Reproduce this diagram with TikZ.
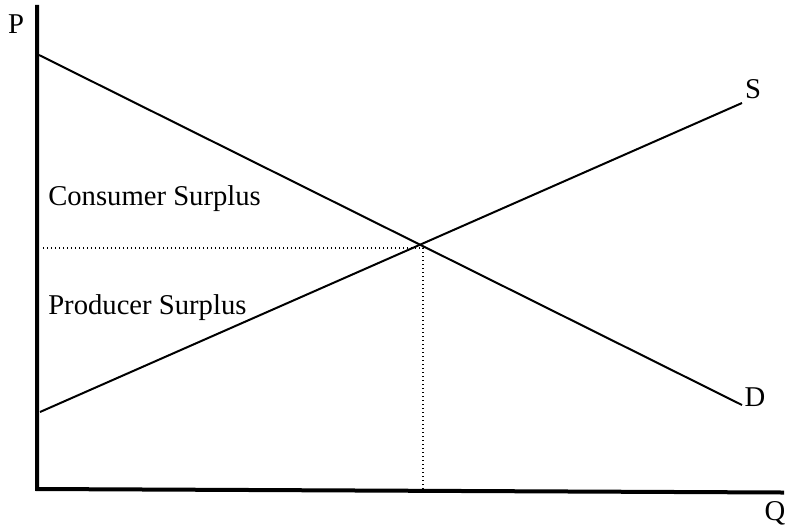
\documentclass[tikz,border=0pt]{standalone}
\usepackage{fontspec}
\setmainfont{Liberation Serif}
\begin{document}
\begin{tikzpicture}[x=0.75pt,y=-0.75pt,
  axis/.style={line width=3pt,line cap=rect},
  curve/.style={line width=1.5pt},
  guide/.style={line width=0.9pt,dash pattern=on 0.9pt off 2.1pt},
  lab/.style={font=\fontsize{21.5}{24}\selectfont,inner sep=0pt}]
\useasboundingbox (0,0) rectangle (787,527);
\coordinate (ytop) at (37,7);
\coordinate (origin) at (37,489);
\coordinate (xend) at (782,492.5);
\coordinate (d0) at (39,55);
\coordinate (d1) at (742,405);
\coordinate (s0) at (40,412);
\coordinate (s1) at (742,103);
\coordinate (h0) at (43,248);
\coordinate (eq) at (423,248);
\coordinate (qe) at (423,490);
\draw[axis] (ytop) -- (origin) -- (xend);
\draw[curve] (d0) -- (d1);
\draw[curve] (s0) -- (s1);
\draw[guide] (h0) -- (eq) -- (qe);
\node[lab] (P) at (16,24) {P};
\node[lab] (Q) at (775,513) {Q};
\node[lab] (S) at (753,89) {S};
\node[lab] (D) at (755,397) {D};
\node[lab,anchor=base west] (cs) at (48,205) {Consumer Surplus};
\node[lab,anchor=base west] (ps) at (48,314) {Producer Surplus};
\end{tikzpicture}
\end{document}
